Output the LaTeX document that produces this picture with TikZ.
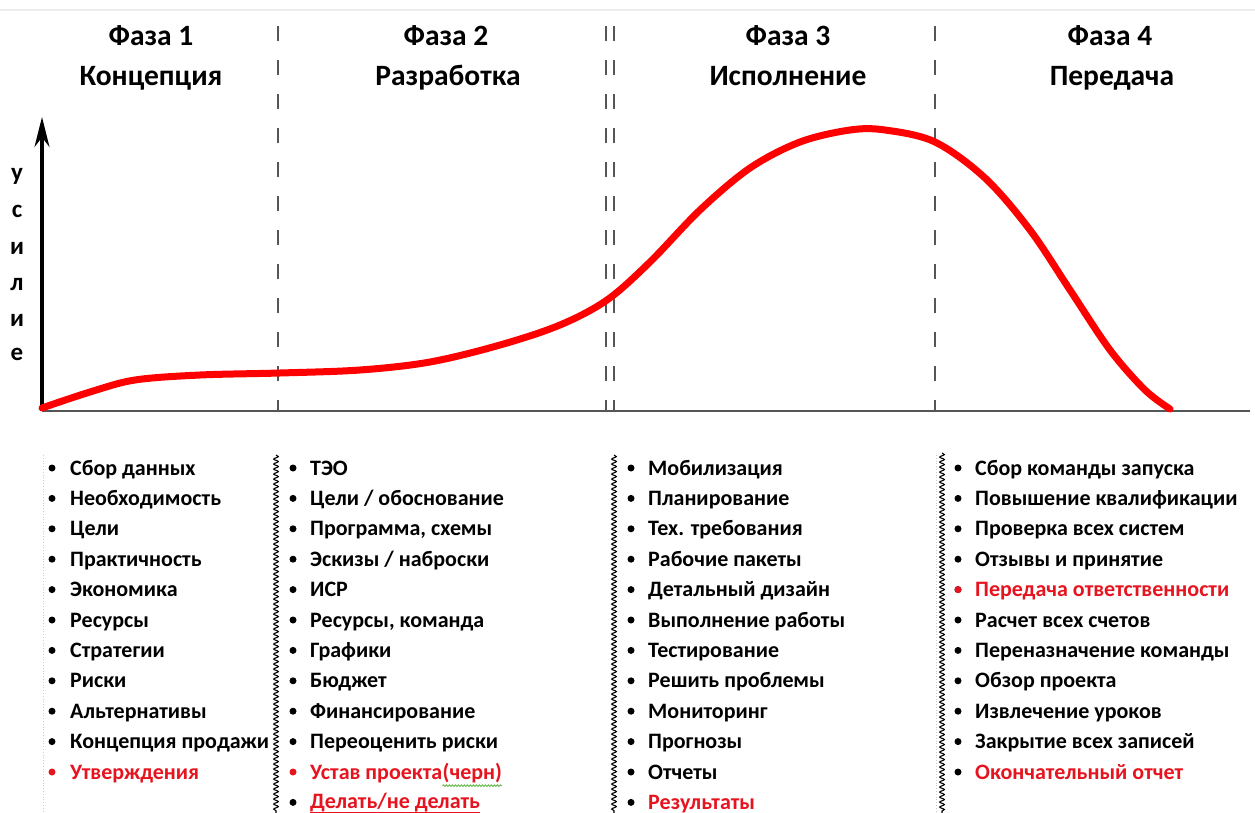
\documentclass[tikz,border=0pt]{standalone}
\usepackage{fontspec}
\setmainfont{Carlito}
\usetikzlibrary{decorations.pathmorphing,arrows.meta}
\definecolor{itemred}{RGB}{230,20,30}
\definecolor{curvered}{RGB}{255,0,0}
\definecolor{sepgray}{RGB}{85,85,85}
\definecolor{spellgreen}{RGB}{90,180,60}
\tikzset{
  phase/.style={anchor=base, inner sep=0pt, font=\fontsize{29.5}{32}\selectfont\bfseries},
  item/.style={anchor=base west, inner sep=0pt, font=\fontsize{22}{26}\selectfont\bfseries},
  reditem/.style={item, text=itemred},
  bul/.style={circle, fill=black, inner sep=0pt, minimum size=7pt},
  redbul/.style={bul, fill=itemred},
  axislabel/.style={anchor=base, inner sep=0pt, font=\fontsize{25}{27}\selectfont\bfseries},
  phasesep/.style={sepgray, line width=2.4pt, dash pattern=on 15pt off 19pt},
  wavesep/.style={decorate, decoration={snake, amplitude=2.3pt, segment length=5pt}, line width=1.1pt},
  boxedge/.style={gray!40, line width=0.8pt, dotted},
  effort/.style={curvered, line width=7pt, line cap=round, line join=round},
  spell/.style={spellgreen, decorate, decoration={snake, amplitude=0.9pt, segment length=3pt}, line width=0.8pt}
}
\begin{document}
\begin{tikzpicture}[x=1pt,y=-1pt]
\useasboundingbox (0,0) rectangle (1255,813);
\fill[white] (0,0) rectangle (1255,813);

% thin rule along the top
\draw[gray!15, line width=1.5pt] (0,10) -- (1255,10);

% phase headings
\node[phase] (h1a) at (151,46) {Фаза 1};
\node[phase] (h1b) at (151,86) {Концепция};
\node[phase] (h2a) at (446,46) {Фаза 2};
\node[phase] (h2b) at (448,86) {Разработка};
\node[phase] (h3a) at (788,46) {Фаза 3};
\node[phase] (h3b) at (788,86) {Исполнение};
\node[phase] (h4a) at (1110,46) {Фаза 4};
\node[phase] (h4b) at (1112,86) {Передача};

% phase boundaries
\coordinate (s1t) at (278,26);  \coordinate (s1b) at (278,410);
\coordinate (s2t) at (606,26);  \coordinate (s2b) at (606,410);
\coordinate (s3t) at (614,26);  \coordinate (s3b) at (614,410);
\coordinate (s4t) at (935,26);  \coordinate (s4b) at (935,410);
\draw[phasesep] (s1t) -- (s1b);
\draw[phasesep] (s2t) -- (s2b);
\draw[phasesep] (s3t) -- (s3b);
\draw[phasesep] (s4t) -- (s4b);

% axes
\coordinate (O) at (42,411);
\coordinate (ytop) at (42,117);
\coordinate (xend) at (1250,411);
\draw[sepgray, line width=2.5pt] (O) -- (xend);
\draw[black, line width=3.2pt, -{Stealth[length=30pt,width=15pt]}] (O) -- (ytop);

% vertical axis label
\node[axislabel] (l1) at (17,181) {у};
\node[axislabel] (l2) at (17,218) {с};
\node[axislabel] (l3) at (17,254) {и};
\node[axislabel] (l4) at (17,290) {л};
\node[axislabel] (l5) at (17,326) {и};
\node[axislabel] (l6) at (17,360) {е};

% effort curve
\draw[effort] plot[smooth, tension=0.55] coordinates {
  (42,408) (90,392) (135,380) (200,375) (280,373) (360,370) (430,362)
  (500,345) (560,325) (607,300) (650,262) (700,210) (750,168) (800,142)
  (850,130) (885,130) (935,142) (985,178) (1030,230) (1070,290)
  (1110,350) (1145,390) (1170,409)};

% column separators below the axis
\draw[boxedge] (43,455) -- (43,813);
\draw[boxedge] (936,455) -- (936,813);
\draw[wavesep] (276,455) -- (276,813);
\draw[wavesep] (614,455) -- (614,813);
\draw[wavesep] (942,453) -- (942,813);

% ---- column 1
\foreach \t [count=\i] in {Сбор данных, Необходимость, Цели, Практичность, Экономика,
  Ресурсы, Стратегии, Риски, Альтернативы, Концепция продажи} {
  \node[bul] (b1-\i) at (52,{468+30.4*(\i-1)}) {};
  \node[item] (t1-\i) at (70,{475+30.4*(\i-1)}) {\t};
}
\node[redbul] (b1-11) at (52,{468+30.4*10}) {};
\node[reditem] (t1-11) at (70,{475+30.4*10}) {Утверждения};

% ---- column 2
\foreach \t [count=\i] in {ТЭО, Цели / обоснование, {Программа, схемы}, Эскизы / наброски, ИСР,
  {Ресурсы, команда}, Графики, Бюджет, Финансирование, Переоценить риски} {
  \node[bul] (b2-\i) at (293,{468+30.4*(\i-1)}) {};
  \node[item] (t2-\i) at (310,{475+30.4*(\i-1)}) {\t};
}
\node[redbul] (b2-11) at (293,{468+30.4*10}) {};
\node[reditem] (t2-11) at (310,{475+30.4*10}) {Устав проекта};
\node[reditem, anchor=base west] (t2-11b) at (t2-11.base east) {(черн)};
\draw[spell] ([yshift=-3pt]t2-11b.south west) -- ([yshift=-3pt]t2-11b.south east);
\node[bul] (b2-12) at (293,{468+30.4*11}) {};
\node[reditem] (t2-12) at (310,{474+30.4*11}) {Делать/не делать};
\draw[itemred, line width=1pt] ([yshift=-0.5pt]t2-12.south west) -- ([yshift=-0.5pt]t2-12.south east);
\draw[spell] ([yshift=-3.5pt]t2-12.south west) -- ([yshift=-3.5pt]t2-12.south east);

% ---- column 3
\foreach \t [count=\i] in {Мобилизация, Планирование, Тех. требования, Рабочие пакеты,
  Детальный дизайн, Выполнение работы, Тестирование, Решить проблемы, Мониторинг,
  Прогнозы, Отчеты} {
  \node[bul] (b3-\i) at (631,{468+30.4*(\i-1)}) {};
  \node[item] (t3-\i) at (648,{475+30.4*(\i-1)}) {\t};
}
\node[bul] (b3-12) at (631,{468+30.4*11}) {};
\node[reditem] (t3-12) at (648,{475+30.4*11}) {Результаты};

% ---- column 4
\foreach \t/\c [count=\i] in {Сбор команды запуска/item, Повышение квалификации/item,
  Проверка всех систем/item, Отзывы и принятие/item, Передача ответственности/reditem,
  Расчет всех счетов/item, Переназначение команды/item, Обзор проекта/item,
  Извлечение уроков/item, Закрытие всех записей/item, Окончательный отчет/reditem} {
  \node[bul] (b4-\i) at (958,{468+30.4*(\i-1)}) {};
  \node[\c] (t4-\i) at (975,{475+30.4*(\i-1)}) {\t};
}
\node[redbul] at (b4-5) {};
\end{tikzpicture}
\end{document}
